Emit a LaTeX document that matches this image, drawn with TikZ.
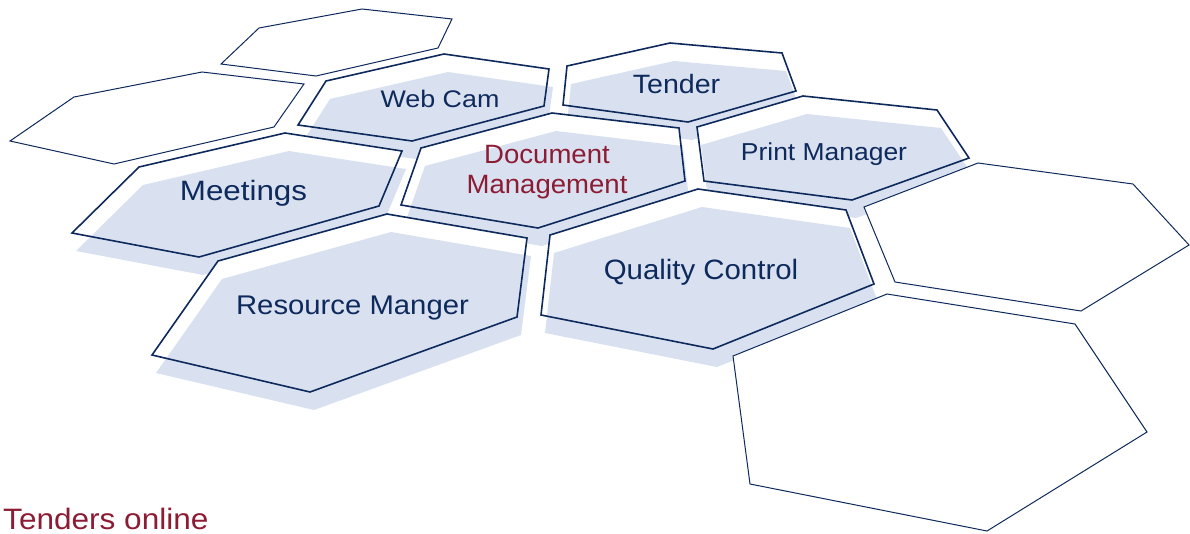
\documentclass[tikz,border=0pt]{standalone}
\usepackage{fontspec}
\setmainfont{Liberation Sans}
\definecolor{navy}{RGB}{14,42,92}
\definecolor{shadeblue}{RGB}{217,225,240}
\definecolor{wine}{RGB}{140,28,52}
\newcommand\hstr[2]{\scalebox{#1}[1]{#2}}
\newcommand\cellhex[6]{%
  \fill[white] #1--#2--#3--#4--#5--#6--cycle;
  \fill[shadeblue,shift={(4,18)}] #1--#2--#3--#4--#5--#6--cycle;
  \draw[celledge] #1--#2--#3--#4--#5--#6--cycle;}
\newcommand\blankhex[6]{%
  \filldraw[blankedge] #1--#2--#3--#4--#5--#6--cycle;}
\tikzset{
  celledge/.style={draw=navy,line width=1.6pt,line join=miter},
  blankedge/.style={fill=white,draw=navy,line width=1pt,line join=miter},
  lbl/.style={anchor=base,inner sep=0pt,text=navy},
}
\begin{document}
\begin{tikzpicture}[x=1pt,y=-1pt]
\useasboundingbox (0,0) rectangle (1190,533);
% back row
\blankhex{(259,28)}{(362,9)}{(452,19)}{(438,48)}{(316,76)}{(221,64)}
\blankhex{(74,97)}{(202,72)}{(304,84)}{(274,127)}{(114,164)}{(10,141)}
\cellhex{(326,81)}{(444,54)}{(549,69)}{(544,106)}{(412,141)}{(298,125)}
\cellhex{(567,66)}{(670,43)}{(782,53)}{(796,91)}{(688,122)}{(563,105)}
% middle row
\cellhex{(139,167)}{(285,133)}{(402,151)}{(379,206)}{(199,257)}{(72,233)}
\cellhex{(421,148)}{(552,113)}{(679,128)}{(685,181)}{(538,228)}{(401,205)}
\cellhex{(697,127)}{(803,96)}{(937,110)}{(969,158)}{(852,200)}{(704,181)}
% front row
\cellhex{(218,261)}{(387,214)}{(527,238)}{(517,317)}{(310,392)}{(152,355)}
\cellhex{(550,235)}{(698,189)}{(846,210)}{(874,284)}{(713,349)}{(541,315)}
\blankhex{(864,207)}{(978,163)}{(1133,184)}{(1189,245)}{(1081,311)}{(895,282)}
\blankhex{(733,356)}{(887,294)}{(1075,324)}{(1147,432)}{(987,531)}{(750,484)}
% labels
\node[lbl,font=\fontsize{24}{28}\selectfont] (webcam) at (440,107) {\hstr{1.12}{Web Cam}};
\node[lbl,font=\fontsize{26.5}{30}\selectfont] (tender) at (676.5,93) {\hstr{1.08}{Tender}};
\node[lbl,font=\fontsize{28}{32}\selectfont] (meetings) at (243.5,200) {\hstr{1.12}{Meetings}};
\node[lbl,text=wine,align=center,font=\fontsize{26.5}{30}\selectfont] (docman) at (547,193.3) {\hstr{1.04}{Document}\\\hstr{1.04}{Management}};
\node[lbl,font=\fontsize{24.5}{28}\selectfont] (printman) at (824,160) {\hstr{1.08}{Print Manager}};
\node[lbl,font=\fontsize{28}{32}\selectfont] (quality) at (701,279) {\hstr{1.05}{Quality Control}};
\node[lbl,font=\fontsize{27}{31}\selectfont] (resource) at (352.5,314) {\hstr{1.085}{Resource Manger}};
\node[anchor=base west,inner sep=0pt,text=wine,font=\fontsize{29.5}{33}\selectfont] (tenders) at (3,529) {\hstr{1.07}{Tenders online}};
\end{tikzpicture}
\end{document}
